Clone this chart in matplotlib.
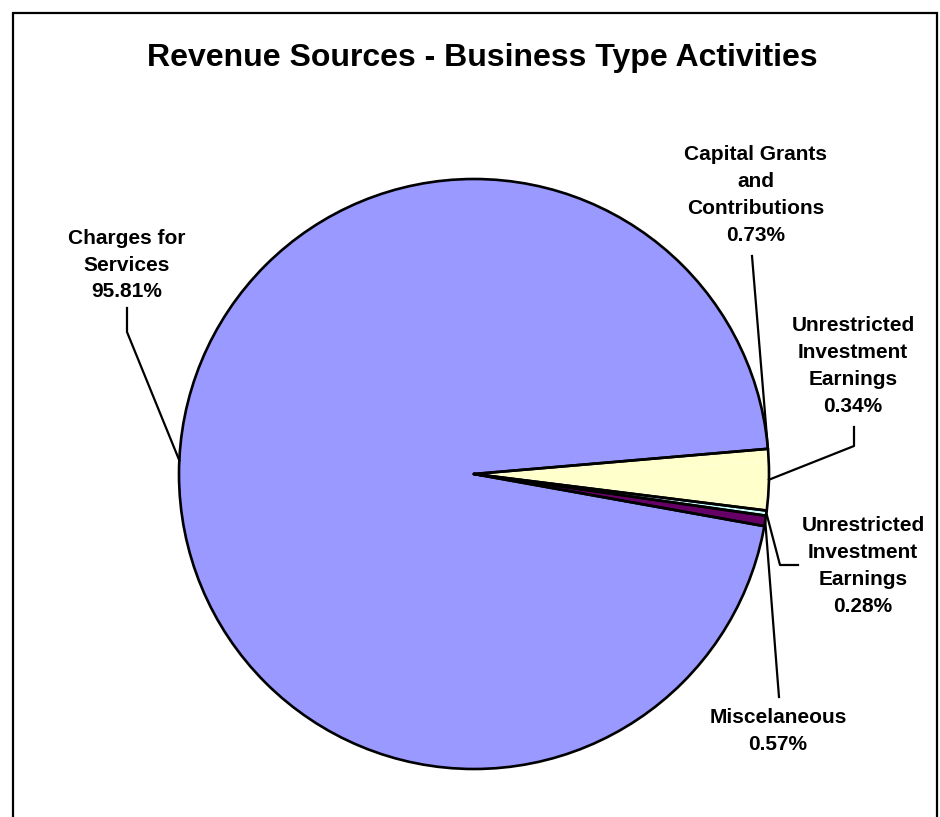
import numpy as np
import matplotlib
matplotlib.use("Agg")
import matplotlib.pyplot as plt
from matplotlib.patches import Circle, Rectangle

plt.rcParams['font.family'] = ['Liberation Sans', 'DejaVu Sans']

W, H = 940, 817

title = "Revenue Sources - Business Type Activities"

# Slices in clockwise order, starting just above 3 o'clock
categories = [
    "Capital Grants\nand\nContributions",
    "",                                   # unlabeled remainder to 100%
    "Unrestricted\nInvestment\nEarnings",
    "Unrestricted\nInvestment\nEarnings",
    "Miscelaneous",
    "Charges for\nServices",
]
values = [0.73, 2.27, 0.34, 0.28, 0.57, 95.81]
colors = ["#FFFFCC", "#FFFFCC", "#FFFFCC", "#CCFFFF", "#660066", "#9999FF"]


def P(px, py):
    """Pixel position (origin top-left) to axes data coordinates."""
    return px, H - py


fig = plt.figure(figsize=(W / 100, H / 100), dpi=100)
ax = fig.add_axes([0, 0, 1, 1])

cx, cy = P(474, 474)
R = 295
start = 4.9

wedges, _ = ax.pie(values, colors=colors, startangle=start, counterclock=False,
                   center=(cx, cy), radius=R,
                   wedgeprops=dict(linewidth=0, antialiased=True))
ax.set_xlim(0, W)
ax.set_ylim(0, H)
ax.set_aspect('equal')
ax.axis('off')

# slice boundaries (degrees), clockwise from the start angle
bounds = start - 360 * np.concatenate([[0], np.cumsum(values)]) / np.sum(values)

# outline: rim plus radii where neighbouring colours change
OL = 1.9
ax.add_patch(Circle((cx, cy), R, fill=False, lw=OL, ec='black', zorder=3))
for i in range(len(values)):
    nxt = (i + 1) % len(values)
    prv = (i - 1) % len(values)
    for ang, other in ((bounds[i], prv), (bounds[i + 1], nxt)):
        if colors[other] != colors[i]:
            a = np.deg2rad(ang)
            ax.plot([cx, cx + R * np.cos(a)], [cy, cy + R * np.sin(a)],
                    color='black', lw=OL, zorder=3, solid_capstyle='round')


def rim(angle_deg):
    a = np.deg2rad(angle_deg)
    return cx + R * np.cos(a), cy + R * np.sin(a)


mid = [(bounds[i] + bounds[i + 1]) / 2 for i in range(len(values))]
yellow_mid = (bounds[0] + bounds[3]) / 2

fs = 15
lab_kw = dict(ha='center', va='center', fontsize=fs, fontweight='bold',
              linespacing=1.52, color='black', zorder=4)


def label(text, val, px, py):
    ax.text(*P(px, py), f"{text}\n{val:.2f}%", **lab_kw)


def leader(points, end_angle):
    xs = [P(*p)[0] for p in points]
    ys = [P(*p)[1] for p in points]
    ex, ey = rim(end_angle)
    ax.plot(xs + [ex], ys + [ey], color='black', lw=1.6, zorder=4)


# Charges for Services
label(categories[5], values[5], 127, 265)
leader([(127, 308), (127, 332)], mid[5])

# Capital Grants and Contributions
label(categories[0], values[0], 756, 195)
leader([(752, 256)], bounds[0])

# Unrestricted Investment Earnings (upper)
label(categories[2], values[2], 853, 366)
leader([(854, 427), (854, 446)], yellow_mid)

# Unrestricted Investment Earnings (lower)
label(categories[3], values[3], 863, 566)
leader([(798, 565), (780, 565)], mid[3])

# Miscelaneous
label(categories[4], values[4], 778, 731)
leader([(779, 697), (777, 672)], mid[4])

# title
ax.text(*P(482, 58), title, ha='center', va='center', fontsize=23,
        fontweight='bold', color='black')

# chart frame
fx0, fy0 = P(13, 880)
ax.add_patch(Rectangle((fx0, fy0), 937 - 13, 880 - 13, fill=False,
                       lw=1.6, ec='black', zorder=5, clip_on=False))

fig.savefig("out.png", dpi=100, facecolor='white')
